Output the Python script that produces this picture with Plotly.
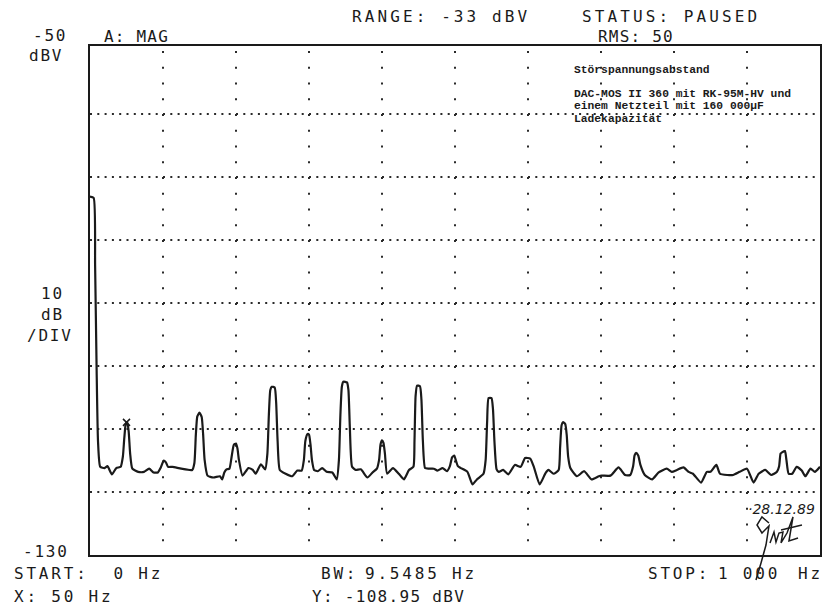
import plotly.graph_objects as go

# ---------------- data ----------------
freq_hz = [0, 5, 7, 9, 11, 14, 20, 24, 30, 36, 42, 45, 47, 49, 51, 53, 55, 58, 66, 74,
           81, 87, 93, 97, 101, 104, 107, 113, 125, 140, 143, 145, 147, 150, 153, 155, 157, 161, 169, 178,
           181, 184, 187, 191, 194, 197, 200, 202, 204, 209, 217, 223, 227, 234, 240, 243, 245, 247, 249, 253,
           255, 257, 260, 268, 277, 284, 290, 293, 295, 298, 300, 302, 304, 307, 312, 318, 324, 332, 338, 341,
           343, 345, 347, 352, 354, 356, 359, 364, 371, 380, 387, 393, 396, 398, 400, 402, 404, 407, 415, 423,
           430, 437, 443, 444.5, 446, 448, 452, 454, 456, 459, 464, 471, 476, 483, 489, 493, 496, 499, 501, 504,
           508, 517, 524, 530, 539, 542, 544, 546, 550, 552, 554, 557, 560, 566, 573, 582, 590, 596, 603, 608,
           616, 624, 628, 635, 642, 644, 646, 648, 651, 653, 655, 658, 667, 677, 687, 697, 701, 713, 724, 733,
           740, 744, 746, 748, 751, 754, 760, 770, 779, 790, 797, 804, 813, 820, 826, 837, 845, 850, 858, 863,
           873, 881, 890, 900, 909, 916, 925, 933, 941, 944, 946, 948, 952, 954, 957, 962, 968, 975, 980, 987,
           993, 1000]
level_dbv = [-73.1, -73.3, -84, -100, -112, -116.0, -116.2, -115.9, -117.2, -116.2, -116.0, -114.4, -111.4, -109.2, -108.9, -110.4, -113.9, -116.3, -116.8, -116.8,
             -116.3, -116.9, -116.9, -116.1, -115.0, -115.3, -116.0, -116.0, -116.3, -116.5, -115.4, -110.9, -108.0, -107.4, -108.1, -110.9, -114.9, -117.4, -117.7, -117.5,
             -118.0, -116.9, -116.4, -116.3, -114.4, -112.5, -112.3, -113.1, -114.9, -117.4, -116.2, -116.5, -117.1, -115.6, -116.4, -113.9, -107.8, -103.8, -103.3, -103.4,
             -105.8, -111.9, -116.5, -117.1, -117.5, -116.6, -116.6, -114.9, -111.9, -110.8, -110.9, -112.4, -114.9, -116.5, -116.7, -116.2, -116.8, -116.9, -118.0, -114.9,
             -107.8, -103.3, -102.5, -102.6, -103.8, -109.9, -116.0, -116.5, -116.4, -117.7, -116.9, -116.3, -114.9, -112.4, -111.8, -112.2, -113.9, -117.1, -116.2, -117.1,
             -118.0, -116.5, -116.0, -111.9, -104.8, -103.1, -103.2, -105.3, -111.9, -116.2, -116.3, -116.3, -116.6, -116.2, -116.7, -115.9, -114.5, -114.2, -114.9, -115.9,
             -116.2, -116.8, -118.8, -118.0, -117.1, -114.9, -108.9, -105.1, -105.1, -106.8, -111.9, -116.4, -116.8, -116.5, -117.2, -115.7, -116.0, -114.6, -114.7, -116.0,
             -118.8, -117.0, -116.5, -117.1, -116.5, -112.9, -109.4, -108.9, -109.2, -110.9, -114.4, -116.2, -117.5, -116.7, -118.0, -117.5, -117.4, -117.4, -116.1, -117.3,
             -117.3, -115.9, -114.2, -113.8, -114.2, -115.7, -117.3, -118.0, -116.9, -116.3, -116.8, -116.5, -116.1, -116.8, -117.1, -118.5, -116.8, -116.8, -115.7, -117.1,
             -117.3, -117.3, -116.8, -116.3, -118.5, -117.1, -116.5, -117.3, -116.8, -115.9, -113.9, -113.7, -113.5, -114.9, -117.1, -117.1, -116.0, -116.6, -117.5, -116.3,
             -116.8, -116.0]

marker_freq = [50]
marker_level = [-108.95]

x_range = [0, 1000]
y_range = [-130, -49.2]
grid_freq = [100, 200, 300, 400, 500, 600, 700, 800, 900]
grid_level = [-120, -110, -100, -90, -80, -70, -60]
grid_top, grid_bottom = -50, -130

header_top = ["RANGE: -33 dBV", "STATUS: PAUSED"]
header_sub = ["A: MAG", "RMS: 50"]
footer_row1 = ["START:\u00a0 0 Hz", "BW:", "9.5485 Hz", "STOP:", "1 000", "Hz"]
footer_row2 = ["X: 50 Hz", "Y: -108.95 dBV"]
axis_labels = ["-50", "dBV", "10", "dB", "/DIV", "-130"]
note_lines = ["Störspannungsabstand", "DAC-MOS II 360 mit RK-95M-HV und",
              "einem Netzteil mit 160 000µF", "Ladekapazität"]
date_text = "28.12.89"

# ---------------- layout geometry (window pixels) ----------------
PAGE_OFF = 8                     # default body margin of the html page
W, H = 834 - PAGE_OFF, 607 - PAGE_OFF
L, R, T, B = 90, 820, 46, 555    # plot frame in window pixels
PW, PH = R - L, B - T


def px(xp):
    return (xp - L) / PW


def py(yp):
    return (B - yp) / PH


MONO = "DejaVu Sans Mono"
INK = "#1a1a1a"
GRID = "#2a2a2a"

fig = go.Figure()

fig.add_trace(go.Scatter(
    x=freq_hz, y=level_dbv, mode="lines",
    line=dict(color=INK, width=2.2, shape="spline", smoothing=0.5),
    hoverinfo="skip", showlegend=False))

fig.add_trace(go.Scatter(
    x=marker_freq, y=marker_level, mode="markers",
    marker=dict(symbol="x-thin", size=7, line=dict(color=INK, width=1.5)),
    hoverinfo="skip", showlegend=False))

annotations = []


def txt(s, x, y, anchor="left", size=16, font=MONO, color=INK, style="normal", spacing=None, weight="normal"):
    if spacing is not None:
        s = f'<span style="letter-spacing:{spacing}px">{s}</span>'
    annotations.append(dict(text=s, x=px(x), y=py(y), xref="paper", yref="paper",
                            xanchor=anchor, yanchor="middle", showarrow=False,
                            font=dict(family=font, size=size, color=color, style=style, weight=weight)))


# header (plotter font, monospaced pitch)
for s, x in zip(header_top, [350, 580]):
    txt(s, x, 16, spacing=3.1)
for s, x in zip(header_sub, [102, 596]):
    txt(s, x, 37, spacing=1.2)

# left axis labels
for s, x, y, a in zip(axis_labels, [69, 46, 52, 52, 50, 71], [35, 56, 293, 314, 336, 551],
                      ["right", "center", "center", "center", "center", "right"]):
    txt(s, x, y, anchor=a, spacing=1.8)

# footer
for s, x in zip(footer_row1, [12, 319, 363, 646, 716, 796]):
    txt(s, x, 573, spacing=2.8)
for s, x, sp in zip(footer_row2, [12, 310], [2.8, 1.3]):
    txt(s, x, 596, spacing=sp)

# note box text (typewriter)
for s, y in zip(note_lines, [70, 94, 106, 119]):
    txt(s, 572, y, size=11.3, font="Liberation Mono", weight="bold")

# date
txt("·" + date_text, 746, 509, size=14, font="DejaVu Sans", style="italic")

shapes = []
# dotted grid (plotter style)
for f in grid_freq:
    shapes.append(dict(type="line", xref="x", yref="y", x0=f, x1=f, y0=grid_top, y1=grid_bottom,
                       line=dict(color=GRID, width=2, dash="2px,13.75px"), layer="below"))
for lv in grid_level:
    shapes.append(dict(type="line", xref="x", yref="y", x0=x_range[0], x1=x_range[1], y0=lv, y1=lv,
                       line=dict(color=GRID, width=2, dash="2px,5.3px"), layer="below"))
# white note area masking the grid
shapes.append(dict(type="rect", xref="paper", yref="paper", x0=px(560), x1=px(818.5), y0=py(129), y1=py(47.5),
                   fillcolor="white", line=dict(width=0), layer="below"))

# handwritten signature strokes (decoration)
sig_strokes = [
    [(769, 523), (762, 517), (757, 525), (762, 533), (769, 526), (766, 545), (761, 563), (756, 580)],
    [(770, 543), (774, 532), (776, 542), (779, 533), (783, 532), (781, 543), (787, 533), (793, 517), (789, 541), (798, 538)],
    [(781, 530), (802, 525)],
]
for stroke in sig_strokes:
    d = "M " + " L ".join(f"{px(a):.4f},{py(b):.4f}" for a, b in stroke)
    shapes.append(dict(type="path", xref="paper", yref="paper", path=d,
                       line=dict(color=INK, width=1.5), layer="above"))

fig.update_layout(
    width=W, height=H,
    margin=dict(l=L - PAGE_OFF, r=W - (R - PAGE_OFF), t=T - PAGE_OFF, b=H - (B - PAGE_OFF), pad=0),
    paper_bgcolor="white", plot_bgcolor="white",
    annotations=annotations, shapes=shapes,
    xaxis=dict(range=x_range, showticklabels=False, ticks="", showgrid=False,
               zeroline=False, showline=True, mirror=True, linecolor=INK, linewidth=2),
    yaxis=dict(range=y_range, showticklabels=False, ticks="", showgrid=False,
               zeroline=False, showline=True, mirror=True, linecolor=INK, linewidth=2),
)

fig.write_html("out.html")
